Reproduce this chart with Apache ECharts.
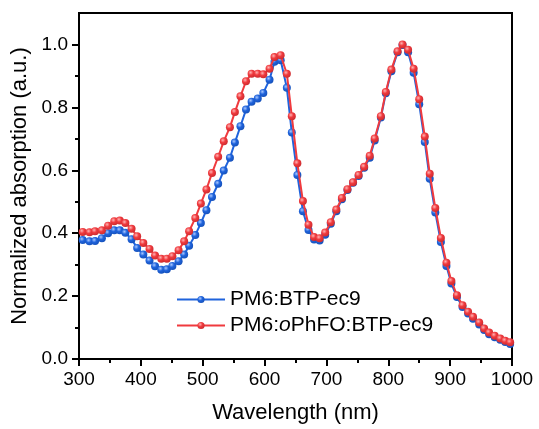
<!DOCTYPE html>
<html><head><meta charset="utf-8">
<script src="https://cdn.jsdelivr.net/npm/echarts@6/dist/echarts.min.js"></script>
<style>html,body{margin:0;padding:0;background:#fff}#c{width:539px;height:429px}</style>
</head><body><div id="c"></div>
<script>
var wavelength = [306,317,326,337,347,357,366,375,385,394,404,414,423,433,442,451,461,470,478,488,497,506,515,525,534,544,552,561,570,579,589,598,608,616,626,636,644,653,662,671,680,689,698,707,716,725,734,743,752,761,770,778,788,796,805,815,823,832,841,850,859,867,876,885,894,902,911,920,929,937,947,955,963,972,981,989,997];
var blueValues = [0.378,0.374,0.375,0.384,0.400,0.409,0.409,0.401,0.381,0.353,0.332,0.313,0.295,0.284,0.285,0.296,0.311,0.332,0.360,0.394,0.432,0.473,0.515,0.557,0.599,0.640,0.688,0.740,0.793,0.818,0.828,0.846,0.888,0.945,0.950,0.862,0.720,0.585,0.470,0.410,0.380,0.377,0.395,0.430,0.470,0.508,0.537,0.560,0.582,0.608,0.640,0.695,0.768,0.845,0.915,0.975,0.998,0.975,0.910,0.810,0.690,0.573,0.466,0.372,0.296,0.240,0.197,0.165,0.145,0.128,0.110,0.092,0.079,0.069,0.061,0.054,0.048];
var redValues = [0.404,0.403,0.406,0.409,0.424,0.438,0.440,0.432,0.414,0.390,0.369,0.350,0.329,0.319,0.319,0.327,0.346,0.374,0.406,0.448,0.494,0.539,0.591,0.643,0.692,0.737,0.785,0.835,0.883,0.907,0.907,0.905,0.923,0.960,0.966,0.907,0.772,0.622,0.502,0.427,0.388,0.384,0.402,0.435,0.475,0.512,0.540,0.562,0.585,0.611,0.646,0.701,0.772,0.849,0.920,0.978,1.000,0.983,0.923,0.826,0.707,0.589,0.480,0.385,0.306,0.248,0.203,0.171,0.150,0.134,0.116,0.097,0.084,0.074,0.065,0.058,0.053];
var seriesNames = ['PM6:BTP-ec9', 'PM6:oPhFO:BTP-ec9'];
var yMajorTicks = [0, 0.2, 0.4, 0.6, 0.8, 1.0];
var yMinorTicks = [0.1, 0.3, 0.5, 0.7, 0.9];

var FONT = 'Liberation Sans, Arial, sans-serif';
function pairs(xs, ys){ return xs.map(function(x,i){ return [x, ys[i]]; }); }
function ball(base, light, dark){
  return {type:'radial', x:0.38, y:0.35, r:0.7,
    colorStops:[{offset:0,color:light},{offset:0.45,color:base},{offset:1,color:dark}]};
}
var BLUE = '#1f63dc', RED = '#f03a3e';
var chart = echarts.init(document.getElementById('c'), null, {renderer:'canvas'});
chart.setOption({
  animation:false,
  backgroundColor:'#fff',
  grid:{left:79, right:27, top:13, bottom:69, show:true, borderColor:'#000', borderWidth:2, backgroundColor:'transparent'},
  legend:{
    orient:'vertical', left:176, top:289, padding:0, itemWidth:48, itemHeight:9, itemGap:5,
    textStyle:{fontFamily:FONT, fontSize:21, color:'#000',
      rich:{i:{fontFamily:FONT, fontSize:21, fontStyle:'italic', color:'#000'}}},
    formatter:function(n){ return n === seriesNames[1] ? 'PM6:{i|o}PhFO:BTP-ec9' : n; },
    data:seriesNames
  },
  xAxis:{
    type:'value', min:300, max:1000, interval:100,
    name:'Wavelength (nm)', nameLocation:'middle', nameGap:43,
    nameTextStyle:{fontFamily:FONT, fontSize:22, color:'#000'},
    axisLine:{show:true, lineStyle:{color:'#000', width:2}},
    axisTick:{show:true, inside:false, length:7, lineStyle:{color:'#000', width:2}},
    minorTick:{show:true, splitNumber:2, length:4, lineStyle:{color:'#000', width:2}},
    axisLabel:{fontFamily:FONT, fontSize:19, color:'#000', margin:11,
      formatter:function(v){ return String(v); }},
    splitLine:{show:false}
  },
  yAxis:[{
    type:'value', min:0, max:1.1,
    name:'Normalized absorption (a.u.)', nameLocation:'middle', nameGap:45,
    nameTextStyle:{fontFamily:FONT, fontSize:22, color:'#000'},
    axisLine:{show:true, lineStyle:{color:'#000', width:2}},
    axisTick:{show:true, length:7, customValues:yMajorTicks, lineStyle:{color:'#000', width:2}},
    axisLabel:{fontFamily:FONT, fontSize:19, color:'#000', margin:11, customValues:yMajorTicks,
      formatter:function(v){ return v.toFixed(1); }},
    splitLine:{show:false}
  },{
    type:'value', min:0, max:1.1, position:'left', offset:0,
    axisLine:{show:false},
    axisTick:{show:true, length:4, customValues:yMinorTicks, lineStyle:{color:'#000', width:2}},
    axisLabel:{show:false},
    splitLine:{show:false}
  }],
  series:[{
    name:seriesNames[0], type:'line', yAxisIndex:0, data:pairs(wavelength, blueValues),
    symbol:'circle', symbolSize:8, lineStyle:{color:BLUE, width:2},
    itemStyle:{color:ball(BLUE,'#a9c8ff','#1550b8')}, z:2
  },{
    name:seriesNames[1], type:'line', yAxisIndex:0, data:pairs(wavelength, redValues),
    symbol:'circle', symbolSize:8, lineStyle:{color:RED, width:2},
    itemStyle:{color:ball(RED,'#ffb3b3','#c92a2e')}, z:3
  }]
});
</script></body></html>
